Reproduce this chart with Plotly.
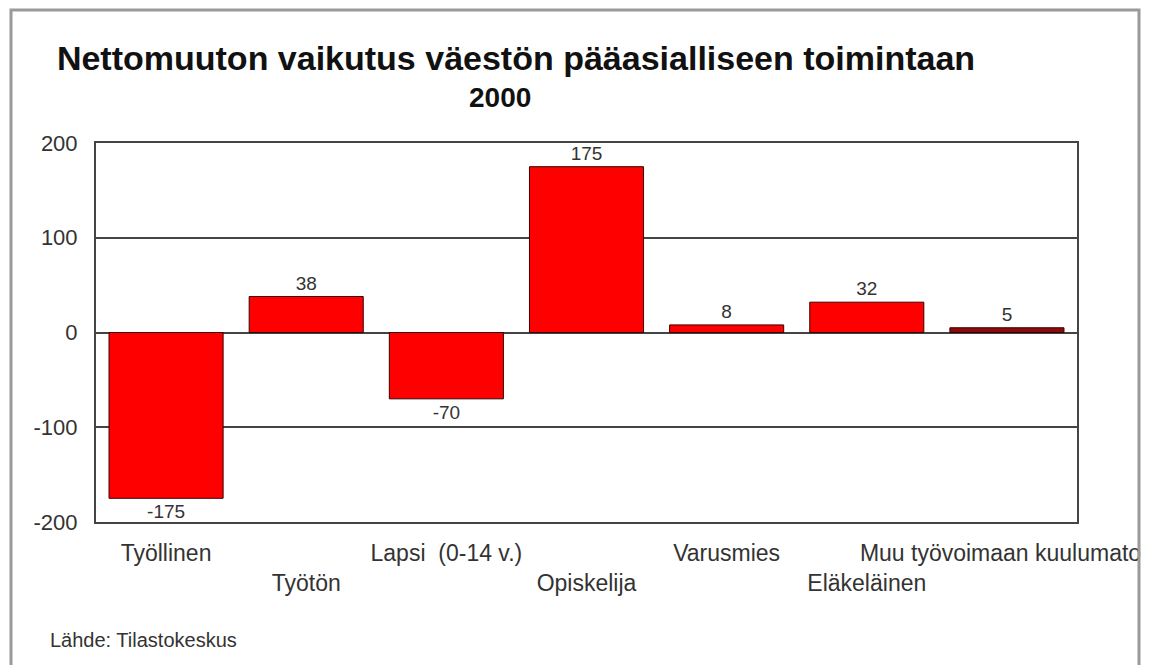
import plotly.graph_objects as go

categories = ["Työllinen", "Työtön", "Lapsi  (0-14 v.)", "Opiskelija",
              "Varusmies", "Eläkeläinen", "Muu työvoimaan kuulumaton"]
values = [-175, 38, -70, 175, 8, 32, 5]
y_ticks = [-200, -100, 0, 100, 200]
y_tick_labels = ["-200", "-100", "0", "100", "200"]
title_text = "Nettomuuton vaikutus väestön pääasialliseen toimintaan"
subtitle_text = "2000"
source_text = "Lähde: Tilastokeskus"

FONT = "Liberation Sans, Arial, sans-serif"
bar_colors = ["#ff0000"] * (len(values) - 1) + ["#8b0a0a"]

# staggered category labels (every second one on a lower line)
tick_text = [c if i % 2 == 0 else "<br>" + c for i, c in enumerate(categories)]

fig = go.Figure()
fig.add_trace(go.Bar(
    x=categories, y=values,
    marker=dict(color=bar_colors, line=dict(color="#3a0000", width=1)),
    text=[str(v) for v in values], textposition="outside",
    textfont=dict(family=FONT, size=19, color="#333333"),
    cliponaxis=False,
))

# page body has an 8px offset; reference pixel coords are converted below
OFF = 8
W, H = 1146, 657
L, R, T, B = 88, 77, 135, 143
pw, ph = W - L - R, H - T - B

def px(x):
    return (x - OFF - L) / pw

def py(y):
    return (H - B - (y - OFF)) / ph

fig.update_layout(
    width=W, height=H,
    margin=dict(l=L, r=R, t=T, b=B, autoexpand=False),
    paper_bgcolor="white", plot_bgcolor="white",
    showlegend=False,
    bargap=0.186,
    title=dict(text="<b>" + title_text + "</b>", x=(516 - OFF) / W, xanchor="center",
               y=1 - (58 - OFF) / H, yanchor="middle",
               font=dict(family=FONT, size=34, color="#111111")),
    xaxis=dict(
        tickmode="array", tickvals=categories, ticktext=tick_text,
        tickangle=0, automargin=False,
        tickfont=dict(family=FONT, size=23, color="#333333"),
        showline=True, linecolor="#444444", linewidth=2, mirror=True,
        ticks="", ticklabelstandoff=9, showgrid=False,
    ),
    yaxis=dict(
        range=[-200, 200], tickmode="array", tickvals=y_ticks, ticktext=y_tick_labels,
        automargin=False,
        tickfont=dict(family=FONT, size=22, color="#333333"),
        showline=True, linecolor="#444444", linewidth=2, mirror=True,
        showgrid=True, gridcolor="#444444", gridwidth=1.5,
        zeroline=True, zerolinecolor="#444444", zerolinewidth=1.5,
        ticks="", ticklabelstandoff=12,
    ),
    annotations=[
        dict(text="<b>" + subtitle_text + "</b>", xref="paper", yref="paper",
             x=px(500), y=py(97), xanchor="center", yanchor="middle",
             showarrow=False, font=dict(family=FONT, size=28, color="#111111")),
        dict(text=source_text, xref="paper", yref="paper",
             x=px(48), y=py(640), xanchor="left", yanchor="middle",
             showarrow=False, font=dict(family=FONT, size=20, color="#333333")),
    ],
    shapes=[
        # white cover to clip long label at frame
        dict(type="rect", xref="paper", yref="paper", layer="above",
             x0=px(1141), x1=px(1170), y0=py(700), y1=py(-10),
             fillcolor="white", line=dict(width=0)),
        # outer frame
        dict(type="path", xref="paper", yref="paper", layer="above",
             path=f"M {px(11)} {py(700)} L {px(11)} {py(10)} L {px(1139)} {py(10)} L {px(1139)} {py(700)}",
             line=dict(color="#9a9a9a", width=3)),
    ],
)

fig.write_html("out.html")
